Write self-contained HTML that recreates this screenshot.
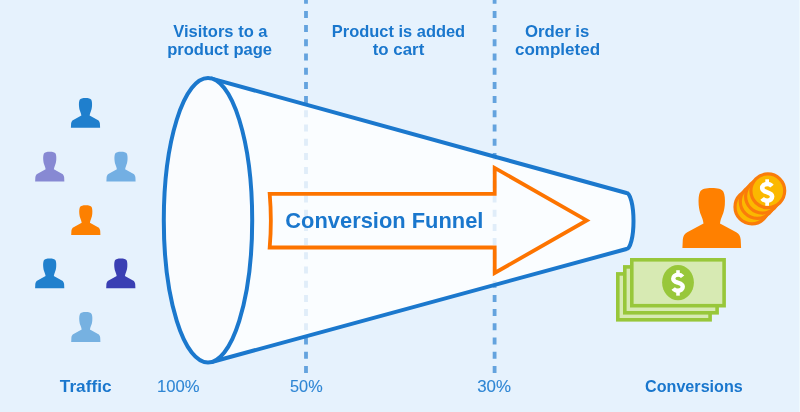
<!DOCTYPE html>
<html><head><meta charset="utf-8">
<style>
html,body{margin:0;padding:0;width:800px;height:412px;overflow:hidden;background:#e6f2fd;}
svg{position:absolute;left:0;top:0;display:block;}
.h{font-family:"Liberation Sans",sans-serif;font-weight:bold;fill:#1a77cd;font-size:16.5px;}
.p{font-family:"Liberation Sans",sans-serif;fill:#2f86d4;font-size:16.5px;stroke:#2f86d4;stroke-width:0.12px;}
</style></head>
<body>
<svg width="800" height="412" viewBox="0 0 800 412">
<defs>
<filter id="nf" filterUnits="userSpaceOnUse" x="0" y="0" width="800" height="412"><feOffset dx="0" dy="0"/></filter>
</defs>
<!-- dashed lines -->
<g stroke="#64a3de" stroke-width="3.8" stroke-dasharray="7 7.2" stroke-dashoffset="3.3">
<line x1="306" y1="0" x2="306" y2="374"/>
<line x1="494.6" y1="0" x2="494.6" y2="374"/>
</g>
<!-- funnel -->
<path d="M211.77 78.62 L626.5 193 A7 28 0 0 1 626.5 249 L211.73 361.99 Z" fill="#fff" fill-opacity="0.8" stroke="#1b78cd" stroke-width="4" stroke-linejoin="round"/>
<ellipse cx="208" cy="220.3" rx="44.2" ry="142.2" fill="#fafcfe" stroke="#1b78cd" stroke-width="4"/>
<!-- arrow -->
<path d="M269.7 193.8 L494.7 193.8 L494.7 167.9 L586.7 220.4 L494.7 273 L494.7 247.5 L269.7 247.5 Q272 220.6 269.7 193.8 Z" fill="none" stroke="#fd7400" stroke-width="3.8" stroke-linejoin="miter"/>
<g filter="url(#nf)"><!--T-->
<text class="h" x="285.34" y="228" style="font-size:22px" textLength="198.09" lengthAdjust="spacingAndGlyphs">Conversion Funnel</text>
<text class="h" x="173.23" y="36.5" style="font-size:17px" textLength="94.31" lengthAdjust="spacingAndGlyphs">Visitors to a</text>
<text class="h" x="167.21" y="55.3" style="font-size:17px" textLength="104.82" lengthAdjust="spacingAndGlyphs">product page</text>
<text class="h" x="331.79" y="36.5" style="font-size:17px" textLength="133.38" lengthAdjust="spacingAndGlyphs">Product is added</text>
<text class="h" x="372.76" y="55.3" style="font-size:17px" textLength="51.50" lengthAdjust="spacingAndGlyphs">to cart</text>
<text class="h" x="525.08" y="36.5" style="font-size:17px" textLength="64.24" lengthAdjust="spacingAndGlyphs">Order is</text>
<text class="h" x="514.94" y="55.3" style="font-size:17px" textLength="85.13" lengthAdjust="spacingAndGlyphs">completed</text>
<text class="h" x="59.83" y="391.8" style="font-size:17px" textLength="51.74" lengthAdjust="spacingAndGlyphs">Traffic</text>
<text class="p" x="156.92" y="391.8" style="font-size:17px" textLength="42.57" lengthAdjust="spacingAndGlyphs">100%</text>
<text class="p" x="290.04" y="391.8" style="font-size:17px" textLength="32.57" lengthAdjust="spacingAndGlyphs">50%</text>
<text class="p" x="477.19" y="391.8" style="font-size:17px" textLength="33.83" lengthAdjust="spacingAndGlyphs">30%</text>
<text class="h" x="645.03" y="391.8" style="font-size:17px" textLength="97.79" lengthAdjust="spacingAndGlyphs">Conversions</text>
<!--/T--></g>
<!-- people -->
<path transform="translate(70.5 97.5)" fill="#1f7fcd" d="M15 0.4C18 0.4 20 0.8 20.8 2.3C21.5 3.8 21.7 6 21.5 8.8C21.3 11 20.9 12.6 20.3 14C19.8 15.3 19.3 16.5 19.1 18L27.2 22.4C28.5 23.1 29.2 24.2 29.4 26L29.6 30.3L0.4 30.3L0.6 26C0.8 24.2 1.5 23.1 2.8 22.4L10.9 18C10.7 16.5 10.2 15.3 9.7 14C9.1 12.6 8.7 11 8.5 8.8C8.3 6 8.5 3.8 9.2 2.3C10 0.8 12 0.4 15 0.4Z"/>
<path transform="translate(34.75 151.25)" fill="#8789d3" d="M15 0.4C18 0.4 20 0.8 20.8 2.3C21.5 3.8 21.7 6 21.5 8.8C21.3 11 20.9 12.6 20.3 14C19.8 15.3 19.3 16.5 19.1 18L27.2 22.4C28.5 23.1 29.2 24.2 29.4 26L29.6 30.3L0.4 30.3L0.6 26C0.8 24.2 1.5 23.1 2.8 22.4L10.9 18C10.7 16.5 10.2 15.3 9.7 14C9.1 12.6 8.7 11 8.5 8.8C8.3 6 8.5 3.8 9.2 2.3C10 0.8 12 0.4 15 0.4Z"/>
<path transform="translate(106 151.25)" fill="#73afe3" d="M15 0.4C18 0.4 20 0.8 20.8 2.3C21.5 3.8 21.7 6 21.5 8.8C21.3 11 20.9 12.6 20.3 14C19.8 15.3 19.3 16.5 19.1 18L27.2 22.4C28.5 23.1 29.2 24.2 29.4 26L29.6 30.3L0.4 30.3L0.6 26C0.8 24.2 1.5 23.1 2.8 22.4L10.9 18C10.7 16.5 10.2 15.3 9.7 14C9.1 12.6 8.7 11 8.5 8.8C8.3 6 8.5 3.8 9.2 2.3C10 0.8 12 0.4 15 0.4Z"/>
<path transform="translate(70.8 204.8)" fill="#fd8000" d="M15 0.4C18 0.4 20 0.8 20.8 2.3C21.5 3.8 21.7 6 21.5 8.8C21.3 11 20.9 12.6 20.3 14C19.8 15.3 19.3 16.5 19.1 18L27.2 22.4C28.5 23.1 29.2 24.2 29.4 26L29.6 30.3L0.4 30.3L0.6 26C0.8 24.2 1.5 23.1 2.8 22.4L10.9 18C10.7 16.5 10.2 15.3 9.7 14C9.1 12.6 8.7 11 8.5 8.8C8.3 6 8.5 3.8 9.2 2.3C10 0.8 12 0.4 15 0.4Z"/>
<path transform="translate(34.7 258)" fill="#2080cd" d="M15 0.4C18 0.4 20 0.8 20.8 2.3C21.5 3.8 21.7 6 21.5 8.8C21.3 11 20.9 12.6 20.3 14C19.8 15.3 19.3 16.5 19.1 18L27.2 22.4C28.5 23.1 29.2 24.2 29.4 26L29.6 30.3L0.4 30.3L0.6 26C0.8 24.2 1.5 23.1 2.8 22.4L10.9 18C10.7 16.5 10.2 15.3 9.7 14C9.1 12.6 8.7 11 8.5 8.8C8.3 6 8.5 3.8 9.2 2.3C10 0.8 12 0.4 15 0.4Z"/>
<path transform="translate(105.8 258)" fill="#3a3fb3" d="M15 0.4C18 0.4 20 0.8 20.8 2.3C21.5 3.8 21.7 6 21.5 8.8C21.3 11 20.9 12.6 20.3 14C19.8 15.3 19.3 16.5 19.1 18L27.2 22.4C28.5 23.1 29.2 24.2 29.4 26L29.6 30.3L0.4 30.3L0.6 26C0.8 24.2 1.5 23.1 2.8 22.4L10.9 18C10.7 16.5 10.2 15.3 9.7 14C9.1 12.6 8.7 11 8.5 8.8C8.3 6 8.5 3.8 9.2 2.3C10 0.8 12 0.4 15 0.4Z"/>
<path transform="translate(70.8 311.6)" fill="#76b1e1" d="M15 0.4C18 0.4 20 0.8 20.8 2.3C21.5 3.8 21.7 6 21.5 8.8C21.3 11 20.9 12.6 20.3 14C19.8 15.3 19.3 16.5 19.1 18L27.2 22.4C28.5 23.1 29.2 24.2 29.4 26L29.6 30.3L0.4 30.3L0.6 26C0.8 24.2 1.5 23.1 2.8 22.4L10.9 18C10.7 16.5 10.2 15.3 9.7 14C9.1 12.6 8.7 11 8.5 8.8C8.3 6 8.5 3.8 9.2 2.3C10 0.8 12 0.4 15 0.4Z"/>
<!-- bills -->
<g stroke="#98c73a" stroke-width="3.6" fill="#d7eab3">
<rect x="617.8" y="273.9" width="92.3" height="45.9"/>
<rect x="624.8" y="266.9" width="92.3" height="45.9"/>
<rect x="631.8" y="259.8" width="92.3" height="45.9"/>
</g>
<ellipse cx="678" cy="282.6" rx="15.9" ry="17.7" fill="#98c73a"/>
<g transform="translate(678 282.7) scale(0.96)"><path d="M4.8 -6.2C3.5 -7.8 2 -8.35 0 -8.35C-3 -8.35 -5 -6.6 -5 -4.2C-5 -1.5 -2.5 -0.8 0 0C2.5 0.8 5 1.5 5 4.2C5 6.6 3 8.35 0 8.35C-2 8.35 -3.8 7.6 -5 6" fill="none" stroke="#fff" stroke-width="4.5"/><rect x="-1.85" y="-13" width="3.7" height="4" fill="#fff"/><rect x="-1.85" y="9" width="3.7" height="4.5" fill="#fff"/></g>
<!-- orange person -->
<path transform="translate(681.6 187.2) scale(2.01)" fill="#ff8000" d="M15 0.4C18 0.4 20 0.8 20.8 2.3C21.5 3.8 21.7 6 21.5 8.8C21.3 11 20.9 12.6 20.3 14C19.8 15.3 19.3 16.5 19.1 18L27.2 22.4C28.5 23.1 29.2 24.2 29.4 26L29.6 30.3L0.4 30.3L0.6 26C0.8 24.2 1.5 23.1 2.8 22.4L10.9 18C10.7 16.5 10.2 15.3 9.7 14C9.1 12.6 8.7 11 8.5 8.8C8.3 6 8.5 3.8 9.2 2.3C10 0.8 12 0.4 15 0.4Z"/>
<!-- coins -->
<g fill="#fbb800" stroke="#fa7c0a" stroke-width="3.2">
<circle cx="751.9" cy="206.9" r="16.9"/>
<circle cx="757.2" cy="201.5" r="16.9"/>
<circle cx="762.5" cy="196.2" r="16.9"/>
<circle cx="767.8" cy="190.8" r="16.9"/>
</g>
<g transform="translate(767.15 192.3)"><path d="M4.8 -6.2C3.5 -7.8 2 -8.35 0 -8.35C-3 -8.35 -5 -6.6 -5 -4.2C-5 -1.5 -2.5 -0.8 0 0C2.5 0.8 5 1.5 5 4.2C5 6.6 3 8.35 0 8.35C-2 8.35 -3.8 7.6 -5 6" fill="none" stroke="#fff" stroke-width="4.5"/><rect x="-1.85" y="-13" width="3.7" height="4" fill="#fff"/><rect x="-1.85" y="9" width="3.7" height="4.5" fill="#fff"/></g>
<rect x="799" y="0" width="1" height="412" fill="#eef9fe"/>
</svg>
</body></html>
